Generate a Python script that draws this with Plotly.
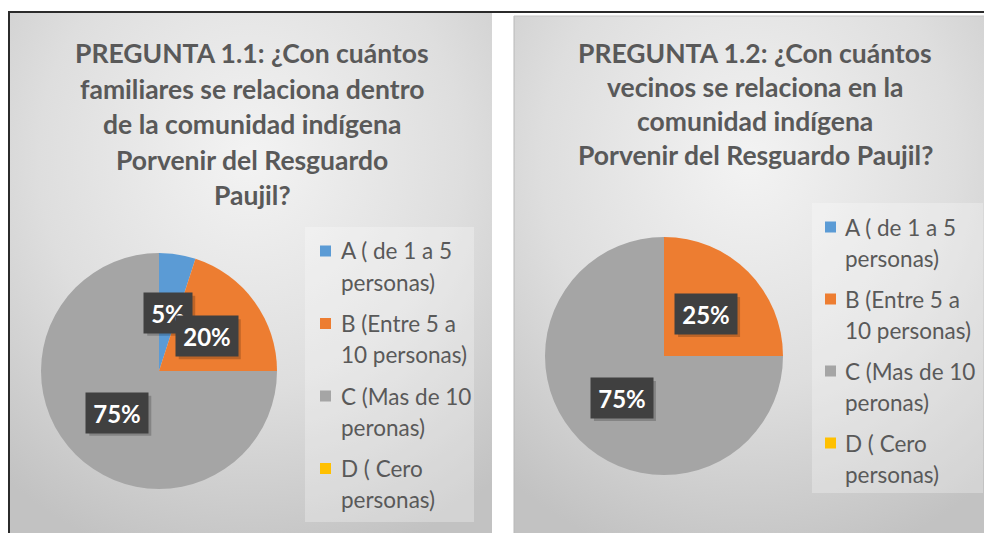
import base64
import math
import plotly.graph_objects as go

# ---------------- data ----------------
categories = [
    "A ( de 1 a 5<br>personas)",
    "B (Entre 5 a<br>10 personas)",
    "C (Mas de 10<br>peronas)",
    "D ( Cero<br>personas)",
]
colors = ["#5B9BD5", "#ED7D31", "#A5A5A5", "#FFC000"]
values_q11 = [5, 20, 75, 0]
values_q12 = [0, 25, 75, 0]
title_q11 = [
    "PREGUNTA 1.1: ¿Con cuántos",
    "familiares se relaciona dentro",
    "de la comunidad indígena",
    "Porvenir del Resguardo",
    "Paujil?",
]
title_q12 = [
    "PREGUNTA 1.2: ¿Con cuántos",
    "vecinos se relaciona en la",
    "comunidad indígena",
    "Porvenir del Resguardo Paujil?",
]

# ---------------- layout geometry (pixels) ----------------
W, H = 984, 533
FONT = "Lato"
TXT = "#595959"


def px(x):
    return x / W


def py(y):
    return 1 - y / H


panels = [
    dict(values=values_q11, title=title_q11, x0=10, x1=492, y0=12,
         cx=159, cy=371, r=118, tcx=252, ty0=53, tdy=35.5,
         lg=(305, 227, 474, 522), lrow0=251, lpitch=72.5, lmx=320, ltx=339),
    dict(values=values_q12, title=title_q12, x0=514, x1=984, y0=16,
         cx=664, cy=356, r=119, tcx=755, ty0=53, tdy=34,
         lg=(812, 203, 983, 493), lrow0=227, lpitch=72, lmx=825, ltx=843),
]

grad_svg = (
    "<svg xmlns='http://www.w3.org/2000/svg' width='100' height='100' preserveAspectRatio='none'>"
    "<defs><radialGradient id='g' cx='50%' cy='28%' r='80%'>"
    "<stop offset='0%' stop-color='#f3f3f3'/>"
    "<stop offset='55%' stop-color='#dedede'/>"
    "<stop offset='100%' stop-color='#c2c2c2'/>"
    "</radialGradient></defs>"
    "<rect width='100' height='100' fill='url(#g)'/></svg>"
)
grad_uri = "data:image/svg+xml;base64," + base64.b64encode(grad_svg.encode()).decode()

fig = go.Figure()
shapes, annotations, images = [], [], []

LBL_SIZE = 24
PAD = 6
BOX_H = 28

for p in panels:
    vals = p["values"]
    total = sum(vals)
    cx, cy, r = p["cx"], p["cy"], p["r"]

    # background panel
    images.append(dict(source=grad_uri, xref="paper", yref="paper",
                       x=px(p["x0"]), y=py(p["y0"]),
                       sizex=(p["x1"] - p["x0"]) / W, sizey=(H - p["y0"]) / H,
                       sizing="stretch", layer="below", xanchor="left", yanchor="top"))

    # pie
    fig.add_trace(go.Pie(
        labels=categories, values=vals, sort=False, direction="clockwise",
        rotation=0, marker=dict(colors=colors, line=dict(width=0)),
        textinfo="none", showlegend=False, hoverinfo="label+percent",
        domain=dict(x=[px(cx - r), px(cx + r)], y=[py(cy + r), py(cy - r)]),
    ))

    # data labels (dark boxes with soft shadow)
    cum = 0
    for v in vals:
        if v > 0:
            ang = math.radians(360 * (cum + v / 2) / total)
            lx = cx + 0.5 * r * math.sin(ang)
            ly = cy - 0.5 * r * math.cos(ang)
            label = f"{round(100 * v / total)}%"
            bw = 14 * len(label) + 8
            hw, hh = bw / 2 + PAD, BOX_H / 2 + PAD
            shapes.append(dict(type="rect", xref="paper", yref="paper",
                               x0=px(lx - hw + 3), x1=px(lx + hw + 3),
                               y0=py(ly + hh + 3), y1=py(ly - hh + 3),
                               fillcolor="rgba(0,0,0,0.2)", line=dict(width=0)))
            annotations.append(dict(
                x=px(lx), y=py(ly), xref="paper", yref="paper", showarrow=False,
                xanchor="center", yanchor="middle",
                text=f"<b>{label}</b>", font=dict(family=FONT, size=LBL_SIZE, color="white"),
                bgcolor="#404040", borderpad=PAD, width=bw, height=BOX_H))
        cum += v

    # title
    for i, line in enumerate(p["title"]):
        annotations.append(dict(
            x=px(p["tcx"]), y=py(p["ty0"] + i * p["tdy"]), xref="paper", yref="paper",
            showarrow=False, text=f"<b>{line}</b>", xanchor="center", yanchor="middle",
            font=dict(family=FONT, size=26.5, color=TXT)))

    # legend box
    lx0, ly0, lx1, ly1 = p["lg"]
    shapes.append(dict(type="rect", xref="paper", yref="paper",
                       x0=px(lx0), x1=px(lx1), y0=py(ly1), y1=py(ly0),
                       fillcolor="rgba(255,255,255,0.28)", line=dict(width=0), layer="below"))
    for k, (cat, col) in enumerate(zip(categories, colors)):
        ry = p["lrow0"] + k * p["lpitch"]
        shapes.append(dict(type="rect", xref="paper", yref="paper",
                           x0=px(p["lmx"]), x1=px(p["lmx"] + 11),
                           y0=py(ry + 5.5), y1=py(ry - 5.5),
                           fillcolor=col, line=dict(width=0)))
        for j, part in enumerate(cat.split("<br>")):
            annotations.append(dict(
                x=px(p["ltx"]), y=py(ry + j * 31), xref="paper", yref="paper",
                showarrow=False, text=part, xanchor="left", yanchor="middle",
                font=dict(family=FONT, size=22.5, color=TXT)))

# frame lines
shapes.append(dict(type="line", xref="paper", yref="paper",
                   x0=px(514), x1=px(514), y0=py(533), y1=py(16),
                   line=dict(color="#b8b8b8", width=1)))
shapes.append(dict(type="line", xref="paper", yref="paper",
                   x0=px(514), x1=px(984), y0=py(16), y1=py(16),
                   line=dict(color="#c4c4c4", width=1)))
shapes.append(dict(type="line", xref="paper", yref="paper",
                   x0=px(8), x1=px(984), y0=py(12), y1=py(12),
                   line=dict(color="#2b2b2b", width=2)))
shapes.append(dict(type="line", xref="paper", yref="paper",
                   x0=px(9), x1=px(9), y0=py(12), y1=py(533),
                   line=dict(color="#2b2b2b", width=2)))

fig.update_layout(
    width=W, height=H, margin=dict(l=0, r=0, t=0, b=0),
    paper_bgcolor="white", plot_bgcolor="white",
    shapes=shapes, annotations=annotations, images=images,
    font=dict(family=FONT, color=TXT),
)
fig.write_html(
    "out.html",
    config={"displayModeBar": False},
    post_script="document.body.style.margin='0';document.body.style.overflow='hidden';",
)
